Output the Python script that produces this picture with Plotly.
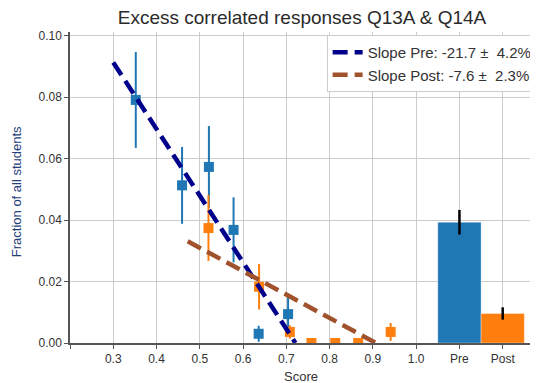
import plotly.graph_objects as go

# ---- data ----
pre_x = [0.352, 0.459, 0.521, 0.578, 0.636, 0.704]
pre_y = [0.0791, 0.0513, 0.0573, 0.0368, 0.0030, 0.0094]
pre_err = [0.0156, 0.0125, 0.0133, 0.0106, 0.0026, 0.0056]

post_x = [0.520, 0.637, 0.708, 0.758, 0.813, 0.866, 0.941]
post_y = [0.0374, 0.0183, 0.0036, 0.0, 0.0, 0.0, 0.0036]
post_err = [0.0107, 0.0074, 0.0022, 0.0, 0.0, 0.0, 0.0029]

pre_fit_x = [0.300, 0.721]
pre_fit_y = [0.0913, 0.0]
post_fit_x = [0.472, 0.907]
post_fit_y = [0.0331, 0.0]

bar_x = [1.1, 1.2]
bar_y = [0.0393, 0.0096]
bar_err = [0.0040, 0.0020]
bar_colors = ["#1f77b4", "#ff7f0e"]

x_tickvals = [0.2, 0.3, 0.4, 0.5, 0.6, 0.7, 0.8, 0.9, 1.0, 1.1, 1.2]
x_ticktext = ["", "0.3", "0.4", "0.5", "0.6", "0.7", "0.8", "0.9", "1.0", "Pre", "Post"]
y_tickvals = [0.0, 0.02, 0.04, 0.06, 0.08, 0.10]

pre_label = "Slope Pre: -21.7 \u00b1\u00a0\u00a04.2%"
post_label = "Slope Post: -7.6 \u00b1\u00a0\u00a02.3%"

BLUE = "#1f77b4"
ORANGE = "#ff7f0e"
FONT = "Liberation Sans"

# the page adds an 8px body margin, so the figure is drawn 8px smaller
W, H = 530, 375

fig = go.Figure()

fig.add_trace(go.Bar(
    x=bar_x, y=bar_y, width=0.1,
    marker=dict(color=bar_colors, line=dict(color="rgba(255,255,255,0.35)", width=1)),
    error_y=dict(type="data", array=bar_err, color="black", thickness=2.5, width=0),
    showlegend=False, hoverinfo="skip",
))

fig.add_trace(go.Scatter(
    x=pre_x, y=pre_y, mode="markers",
    marker=dict(symbol="square", size=10, color=BLUE),
    error_y=dict(type="data", array=pre_err, color=BLUE, thickness=2, width=0),
    showlegend=False,
))
fig.add_trace(go.Scatter(
    x=post_x, y=post_y, mode="markers",
    marker=dict(symbol="square", size=10, color=ORANGE),
    error_y=dict(type="data", array=post_err, color=ORANGE, thickness=2, width=0),
    showlegend=False,
))

fig.add_trace(go.Scatter(
    x=pre_fit_x, y=pre_fit_y, mode="lines", name=pre_label,
    line=dict(color="#00008b", width=4.5, dash="15px,7px"),
))
fig.add_trace(go.Scatter(
    x=post_fit_x, y=post_fit_y, mode="lines", name=post_label,
    line=dict(color="#a0522d", width=4.5, dash="15px,7px"),
))

fig.update_layout(
    width=W, height=H,
    margin=dict(l=62, r=5, t=24, b=40, autoexpand=False),
    paper_bgcolor="white", plot_bgcolor="white",
    font=dict(family=FONT, size=12, color="#333333"),
    title=dict(text="Excess correlated responses Q13A & Q14A",
               x=294 / W, xanchor="center", y=1 - 9.5 / H, yanchor="middle", yref="container",
               font=dict(size=19, color="#2a2a2a")),
    legend=dict(x=1.01, xanchor="right", y=0.99, yanchor="top",
                bgcolor="white", bordercolor="#cccccc", borderwidth=1,
                font=dict(size=15, color="#333333"), tracegroupgap=2),
    showlegend=True,
    annotations=[
        dict(text="Score", xref="paper", yref="paper", x=0.498, y=-0.107,
             xanchor="center", yanchor="middle", showarrow=False,
             font=dict(size=13, color="#333333")),
        dict(text="Fraction of all students", xref="paper", yref="paper",
             x=-0.1166, y=0.485, xanchor="center", yanchor="middle", textangle=-90,
             showarrow=False, font=dict(size=13, color="#23407a")),
    ],
)

fig.update_xaxes(
    range=[0.2, 1.27], tickmode="array", tickvals=x_tickvals, ticktext=x_ticktext,
    showgrid=True, gridcolor="#cccccc", gridwidth=1, automargin=False,
    showline=True, linecolor="#555555", linewidth=1.5,
    ticks="outside", ticklen=4, tickcolor="#555555",
    tickfont=dict(size=12, color="#333333"),
    zeroline=False,
)
fig.update_yaxes(
    range=[0, 0.1012], tickmode="array", tickvals=y_tickvals, tickformat=".2f",
    showgrid=True, gridcolor="#cccccc", gridwidth=1, automargin=False,
    showline=True, linecolor="#555555", linewidth=1.5,
    ticks="outside", ticklen=4, tickcolor="#555555",
    tickfont=dict(size=12, color="#333333"),
    zeroline=False,
)

fig.write_html("out.html")
